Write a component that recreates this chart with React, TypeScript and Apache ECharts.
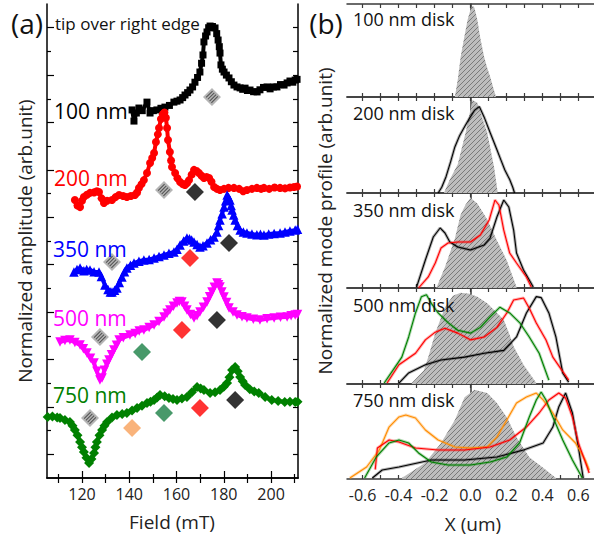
import React, { useEffect, useRef } from 'react';
import * as echarts from 'echarts';

const FONT = '"Open Sans", "DejaVu Sans", sans-serif';

// ---------- Panel (a): FMR spectra (Field mT, normalized amplitude with offsets) ----------
const fieldTicksMajor = [120, 140, 160, 180, 200];
const fieldTicksMinor = [110, 130, 150, 170, 190, 210];
const fieldTicksTop = [110, 120, 130, 140, 150, 160, 170, 180, 190, 200, 210];
const ampTicksMajor = [1, 3, 5, 7, 9, 11, 13, 15, 17, 19];
const ampTicksMinor = [2, 4, 6, 8, 10, 12, 14, 16, 18];
const ampTicksRight = [1, 2, 3, 4, 5, 6, 7, 8, 9, 10, 11, 12, 13, 14, 15, 16, 17, 18, 19];

const curve100 = [[141.2,15.53],[142.0,15.06],[143.0,15.4],[144.1,15.61],[145.5,15.5],[147.5,15.86],[148.8,15.4],[150.2,15.5],[151.7,15.53],[153.4,15.6],[155.1,15.65],[157.0,15.72],[158.9,15.86],[160.2,15.9],[161.5,15.95],[162.6,16.05],[163.6,16.16],[164.7,16.26],[165.7,16.37],[166.8,16.5],[167.8,16.7],[168.9,16.9],[169.9,17.13],[170.6,17.5],[171.2,17.85],[171.6,18.4],[172.3,18.65],[172.9,18.82],[173.6,19.0],[174.2,19.07],[175.2,19.05],[176.3,18.99],[177.0,18.75],[177.6,18.48],[178.1,18.2],[178.4,17.93],[178.8,17.43],[179.4,17.25],[180.1,17.13],[181.1,17.0],[182.2,16.88],[183.2,16.72],[184.3,16.58],[185.6,16.5],[186.9,16.46],[188.0,16.4],[189.0,16.45],[190.0,16.35],[191.1,16.37],[192.6,16.3],[194.1,16.29],[195.3,16.38],[196.8,16.48],[198.3,16.5],[199.6,16.42],[201.0,16.5],[202.5,16.5],[204.0,16.6],[205.5,16.58],[206.8,16.67],[208.0,16.75],[209.2,16.7],[210.2,16.79],[211.0,16.82]];
const curve200 = [[117.0,11.73],[118.1,11.5],[119.2,11.43],[120.0,11.7],[120.8,11.86],[122.1,11.95],[123.4,12.03],[125.1,12.05],[126.3,12.1],[127.2,12.07],[128.3,11.8],[129.3,11.6],[130.6,11.7],[132.7,11.73],[134.2,11.85],[135.7,11.94],[137.4,11.9],[139.0,11.86],[140.7,11.9],[142.4,11.94],[143.3,12.05],[144.1,12.24],[145.2,12.4],[146.2,12.57],[147.5,12.87],[148.8,13.29],[149.7,13.5],[150.5,13.71],[151.3,14.18],[152.1,14.5],[152.6,14.77],[153.4,15.15],[154.2,15.35],[154.9,15.42],[155.5,15.2],[156.0,14.77],[156.4,14.26],[157.2,13.76],[157.7,13.4],[158.1,13.12],[159.4,12.87],[160.4,12.65],[161.5,12.49],[162.6,12.4],[163.6,12.36],[164.5,12.45],[165.3,12.57],[166.4,12.8],[167.4,13.0],[168.5,12.95],[169.5,12.87],[170.6,12.75],[171.6,12.66],[172.7,12.7],[173.8,12.66],[174.8,12.5],[175.9,12.28],[177.1,12.2],[178.4,12.15],[180.1,12.2],[182.0,12.24],[184.3,12.24],[186.5,12.2],[188.2,12.1],[189.8,12.15],[191.9,12.2],[194.0,12.24],[195.8,12.2],[197.0,12.24],[199.2,12.2],[201.5,12.26],[203.8,12.24],[205.9,12.22],[208.0,12.26],[209.7,12.28],[211.0,12.3]];
const curve350 = [[116.6,8.69],[117.9,8.8],[119.2,8.86],[120.8,8.75],[122.0,8.8],[123.4,8.78],[125.1,8.7],[127.2,8.69],[128.2,8.5],[129.7,8.14],[131.0,7.95],[132.0,7.85],[132.7,7.85],[133.8,7.92],[134.8,8.02],[135.8,8.25],[136.9,8.48],[138.0,8.7],[139.0,8.86],[140.5,8.98],[142.0,9.07],[144.1,9.15],[146.2,9.2],[148.4,9.22],[150.5,9.28],[152.6,9.35],[154.7,9.41],[156.8,9.48],[158.9,9.54],[160.2,9.65],[161.5,9.83],[163.0,10.0],[164.4,10.13],[165.5,10.1],[166.4,10.04],[167.4,9.96],[168.7,9.85],[169.9,9.75],[171.2,9.8],[172.9,9.92],[174.4,10.05],[175.9,10.17],[177.1,10.38],[177.8,10.65],[178.4,10.89],[179.3,11.15],[180.1,11.43],[180.8,11.7],[181.4,11.94],[182.0,11.85],[182.6,11.73],[183.1,11.5],[183.5,11.31],[184.2,11.1],[184.8,10.89],[185.8,10.65],[186.9,10.46],[188.3,10.38],[189.8,10.34],[191.9,10.3],[194.0,10.26],[195.5,10.28],[197.0,10.25],[199.0,10.3],[201.3,10.32],[203.8,10.34],[205.9,10.38],[208.0,10.42],[210.2,10.46],[211.2,10.5]];
const curve500 = [[110.7,5.74],[112.8,5.8],[114.9,5.82],[117.0,5.72],[119.2,5.61],[120.6,5.45],[122.1,5.27],[123.6,5.05],[125.1,4.85],[126.3,4.5],[127.6,4.14],[128.5,4.22],[129.5,4.55],[130.5,4.8],[131.4,4.98],[132.5,5.2],[133.5,5.4],[134.6,5.6],[135.7,5.82],[137.5,5.92],[140.3,6.03],[142.5,6.1],[144.2,6.2],[146.2,6.24],[148.4,6.35],[150.5,6.46],[152.6,6.6],[154.7,6.79],[156.0,6.95],[157.2,7.09],[158.7,7.25],[160.2,7.38],[161.2,7.45],[162.3,7.43],[163.4,7.25],[164.4,7.09],[165.9,6.9],[167.4,6.75],[168.7,6.85],[169.9,7.0],[171.4,7.2],[172.9,7.43],[174.0,7.65],[175.0,7.85],[176.0,8.05],[177.1,8.23],[177.8,8.15],[178.4,8.06],[179.2,7.85],[180.1,7.64],[181.2,7.4],[182.2,7.17],[183.9,7.0],[185.6,6.88],[187.7,6.8],[189.8,6.75],[192.5,6.7],[195.3,6.67],[198.3,6.72],[201.3,6.75],[204.0,6.78],[206.8,6.79],[208.5,6.85],[210.2,6.88],[211.2,6.9]];
const curve750 = [[105.5,2.57],[107.5,2.6],[109.5,2.55],[110.7,2.53],[112.8,2.45],[114.9,2.36],[116.0,2.2],[117.0,2.03],[118.1,1.8],[119.2,1.52],[120.0,1.3],[120.8,1.1],[121.9,0.85],[123.0,0.63],[124.0,0.8],[125.1,1.05],[125.7,1.3],[126.3,1.52],[127.4,1.8],[128.5,2.03],[129.5,2.2],[130.6,2.36],[132.7,2.55],[134.8,2.66],[137.0,2.7],[139.0,2.74],[141.2,2.85],[143.3,2.95],[145.4,3.05],[147.5,3.16],[149.0,3.22],[150.5,3.29],[151.8,3.4],[153.0,3.5],[155.0,3.45],[156.8,3.38],[158.5,3.33],[160.2,3.29],[162.3,3.35],[164.4,3.42],[166.5,3.62],[168.7,3.84],[170.2,3.78],[171.6,3.71],[174.2,3.59],[176.3,3.62],[178.4,3.71],[180.0,3.85],[181.4,4.01],[182.4,4.25],[183.5,4.56],[184.8,4.68],[185.9,4.5],[186.9,4.26],[188.0,4.08],[189.0,3.92],[191.0,3.75],[192.9,3.65],[194.8,3.59],[197.5,3.42],[200.3,3.29],[203.0,3.25],[205.8,3.21],[208.0,3.22],[210.2,3.21],[211.2,3.22]];

// annotation diamonds
const hatchMarks = [[175.0,16.08],[154.7,12.15],[132.7,9.11],[127.6,5.95],[123.4,2.53]];
const blackMarks = [[167.8,12.07],[182.2,9.92],[177.1,6.67],[184.8,3.29]];
const redMarks = [[165.7,9.28],[162.3,6.24],[169.9,2.95]];
const greenMarks = [[145.4,5.32],[154.7,2.74]];
const orangeMarks = [[141.2,2.11]];

// ---------- Panel (b): mode profiles ----------
const xTicks = [-0.6,-0.5,-0.4,-0.3,-0.2,-0.1,0,0.1,0.2,0.3,0.4,0.5,0.6];
const xLabels = [-0.6,-0.4,-0.2,0,0.2,0.4,0.6];
const diskNames = ['100 nm disk','200 nm disk','350 nm disk','500 nm disk','750 nm disk'];

const gray100 = [[-0.087,0],[-0.07,0.2],[-0.055,0.43],[-0.035,0.64],[-0.016,0.83],[0,0.94],[0.012,0.98],[0.022,0.96],[0.038,0.83],[0.055,0.63],[0.076,0.43],[0.092,0.32],[0.109,0.22],[0.125,0.11],[0.142,0]];
const gray200 = [[-0.148,0],[-0.115,0.14],[-0.071,0.3],[-0.027,0.63],[0.011,0.97],[0.038,0.94],[0.065,0.78],[0.093,0.63],[0.131,0.27],[0.152,0]];
const black200 = [[-0.18,0.0],[-0.16,0.06],[-0.136,0.17],[-0.11,0.33],[-0.087,0.48],[-0.06,0.6],[-0.033,0.69],[-0.005,0.78],[0.022,0.86],[0.049,0.9],[0.076,0.79],[0.109,0.63],[0.147,0.45],[0.17,0.34],[0.191,0.24],[0.218,0.14],[0.235,0.06],[0.245,0]];
const gray350 = [[-0.19,0],[-0.142,0.22],[-0.087,0.52],[-0.055,0.77],[-0.027,0.88],[0,0.95],[0.038,0.89],[0.093,0.72],[0.147,0.5],[0.202,0.29],[0.256,0.01]];
const black350 = [[-0.30,0.01],[-0.251,0.295],[-0.207,0.537],[-0.169,0.632],[-0.142,0.579],[-0.115,0.484],[-0.071,0.432],[0,0.4],[0.076,0.453],[0.109,0.526],[0.147,0.747],[0.185,0.926],[0.213,0.853],[0.24,0.61],[0.256,0.368],[0.295,0.189],[0.327,0.084],[0.349,0.01]];
const red350 = [[-0.289,0],[-0.235,0.116],[-0.196,0.263],[-0.164,0.421],[-0.125,0.474],[-0.071,0.484],[0,0.484],[0.055,0.558],[0.104,0.716],[0.136,0.926],[0.158,0.874],[0.185,0.61],[0.218,0.368],[0.256,0.263],[0.311,0.116],[0.338,0.01]];
const gray500 = [[-0.327,0.01],[-0.26,0.14],[-0.235,0.28],[-0.196,0.53],[-0.142,0.8],[-0.098,0.92],[-0.055,0.95],[-0.005,0.94],[0.038,0.91],[0.093,0.84],[0.131,0.77],[0.185,0.67],[0.218,0.51],[0.24,0.39],[0.295,0.2],[0.366,0.01]];
const green500 = [[-0.48,0.01],[-0.382,0.28],[-0.344,0.49],[-0.306,0.74],[-0.273,0.91],[-0.245,0.93],[-0.218,0.84],[-0.18,0.74],[-0.125,0.64],[-0.071,0.56],[0,0.53],[0.055,0.59],[0.109,0.7],[0.164,0.8],[0.218,0.74],[0.273,0.64],[0.327,0.49],[0.382,0.32],[0.409,0.18],[0.436,0.04]];
const red500 = [[-0.464,0.01],[-0.398,0.2],[-0.306,0.32],[-0.251,0.46],[-0.196,0.54],[-0.142,0.58],[-0.071,0.53],[0,0.46],[0.076,0.49],[0.147,0.59],[0.202,0.74],[0.24,0.875],[0.295,0.896],[0.327,0.79],[0.366,0.635],[0.42,0.458],[0.458,0.28],[0.546,0.04]];
const black500 = [[-0.398,0.01],[-0.344,0.115],[-0.251,0.2],[-0.164,0.25],[-0.033,0.28],[0.076,0.32],[0.185,0.35],[0.256,0.49],[0.311,0.74],[0.366,0.91],[0.393,0.9],[0.436,0.74],[0.475,0.49],[0.513,0.115],[0.546,0.02]];
const gray750 = [[-0.382,0.01],[-0.251,0.17],[-0.164,0.38],[-0.087,0.62],[-0.033,0.86],[0.022,0.94],[0.093,0.905],[0.147,0.8],[0.202,0.65],[0.256,0.44],[0.327,0.23],[0.42,0.095],[0.475,0.01]];
const orange750 = [[-0.671,0.01],[-0.578,0.126],[-0.507,0.305],[-0.453,0.547],[-0.398,0.653],[-0.36,0.674],[-0.306,0.642],[-0.251,0.516],[-0.18,0.411],[-0.087,0.337],[0,0.326],[0.093,0.337],[0.147,0.442],[0.202,0.621],[0.256,0.8],[0.311,0.863],[0.366,0.905],[0.404,0.832],[0.458,0.695],[0.513,0.516],[0.584,0.379],[0.638,0.2],[0.66,0.095]];
const green750 = [[-0.589,0.01],[-0.524,0.232],[-0.453,0.379],[-0.398,0.411],[-0.344,0.379],[-0.289,0.274],[-0.218,0.179],[-0.125,0.147],[0,0.147],[0.109,0.179],[0.202,0.232],[0.273,0.379],[0.327,0.653],[0.366,0.832],[0.393,0.916],[0.42,0.832],[0.458,0.653],[0.513,0.411],[0.567,0.2],[0.622,0.01]];
const red750 = [[-0.53,0.1],[-0.518,0.326],[-0.453,0.411],[-0.398,0.389],[-0.306,0.326],[-0.18,0.305],[-0.033,0.305],[0.109,0.337],[0.218,0.411],[0.311,0.547],[0.382,0.695],[0.436,0.832],[0.491,0.905],[0.529,0.853],[0.567,0.653],[0.6,0.379],[0.649,0.126],[0.66,0.063]];
const black750 = [[-0.546,0.01],[-0.491,0.095],[-0.398,0.126],[-0.218,0.2],[-0.033,0.2],[0.147,0.232],[0.295,0.305],[0.404,0.379],[0.458,0.547],[0.491,0.758],[0.529,0.905],[0.567,0.695],[0.6,0.337],[0.627,0.01]];

const grayProfiles = [gray100, gray200, gray350, gray500, gray750];
const lineProfiles: { data: number[][]; color: string }[][] = [
  [],
  [{ data: black200, color: '#000000' }],
  [{ data: black350, color: '#000000' }, { data: red350, color: '#ff0000' }],
  [{ data: black500, color: '#000000' }, { data: red500, color: '#ff0000' }, { data: green500, color: '#008000' }],
  [{ data: black750, color: '#000000' }, { data: orange750, color: '#ff8c00' }, { data: red750, color: '#ff0000' }, { data: green750, color: '#008000' }],
];

const STRIPES = 'path://M30 52 L52 30 L54.5 32.5 L32.5 54.5 Z M36 58 L58 36 L60.5 38.5 L38.5 60.5 Z M42 64 L64 42 L66.5 44.5 L44.5 66.5 Z M48 70 L70 48 L72.5 50.5 L50.5 72.5 Z';

const App = () => {
  const ref = useRef<HTMLDivElement>(null);
  useEffect(() => {
    if (!ref.current) return;
    const chart = echarts.init(ref.current, null, { renderer: 'svg' });

    const cv = document.createElement('canvas');
    cv.width = 5; cv.height = 5;
    const g = cv.getContext('2d')!;
    g.fillStyle = '#bdbdbd'; g.fillRect(0, 0, 5, 5);
    g.strokeStyle = '#7a7a7a'; g.lineWidth = 1;
    g.beginPath();
    g.moveTo(0, 5); g.lineTo(5, 0);
    g.moveTo(-1, 1); g.lineTo(1, -1);
    g.moveTo(4, 6); g.lineTo(6, 4);
    g.stroke();
    const hatch: any = { image: cv, repeat: 'repeat', imageWidth: 5, imageHeight: 5 };

    const grids: any[] = [{ left: 47, top: 4, width: 251, height: 474 }];
    const rTops = [4, 97, 193, 288, 384];
    const rHeights = [93, 96, 95, 96, 95];
    rTops.forEach((t, i) => grids.push({ left: 347, top: t, width: 252, height: rHeights[i] }));

    const blackLine = { show: true, lineStyle: { color: '#000', width: 1.5 } };
    const tickStyle = { color: '#000', width: 1.2 };
    const xAxes: any[] = [
      { type: 'value', gridIndex: 0, min: 105.2, max: 211.4, position: 'bottom', axisLine: blackLine,
        axisTick: { show: true, inside: true, length: 7, customValues: fieldTicksMajor, lineStyle: tickStyle },
        axisLabel: { show: true, customValues: fieldTicksMajor, fontSize: 16, color: '#222', fontFamily: FONT, margin: 8 },
        splitLine: { show: false } },
      { type: 'value', gridIndex: 0, min: 105.2, max: 211.4, position: 'bottom', axisLine: { show: false },
        axisTick: { show: true, inside: true, length: 4, customValues: fieldTicksMinor, lineStyle: tickStyle },
        axisLabel: { show: false }, splitLine: { show: false } },
      { type: 'value', gridIndex: 0, min: 105.2, max: 211.4, position: 'top', axisLine: blackLine,
        axisTick: { show: true, inside: true, length: 5, customValues: fieldTicksTop, lineStyle: tickStyle },
        axisLabel: { show: false }, splitLine: { show: false } },
    ];
    const yAxes: any[] = [
      { type: 'value', gridIndex: 0, min: 0, max: 20, position: 'left', axisLine: blackLine,
        axisTick: { show: true, inside: true, length: 7, customValues: ampTicksMajor, lineStyle: tickStyle },
        axisLabel: { show: false }, splitLine: { show: false } },
      { type: 'value', gridIndex: 0, min: 0, max: 20, position: 'left', axisLine: { show: false },
        axisTick: { show: true, inside: true, length: 4, customValues: ampTicksMinor, lineStyle: tickStyle },
        axisLabel: { show: false }, splitLine: { show: false } },
      { type: 'value', gridIndex: 0, min: 0, max: 20, position: 'right', axisLine: blackLine,
        axisTick: { show: true, inside: true, length: 5, customValues: ampTicksRight, lineStyle: tickStyle },
        axisLabel: { show: false }, splitLine: { show: false } },
    ];
    const rLine = { show: true, lineStyle: { color: '#3a3a3a', width: 1.5 } };
    const rTick = { color: '#3a3a3a', width: 1.2 };
    const series: any[] = [];
    const rx: number[] = [];
    const ry: number[] = [];
    for (let i = 0; i < 5; i++) {
      const gi = i + 1;
      rx.push(xAxes.length);
      xAxes.push({ type: 'value', gridIndex: gi, min: -0.687, max: 0.687, position: 'bottom', axisLine: rLine,
        axisTick: { show: true, inside: true, length: 4, customValues: xTicks, lineStyle: rTick },
        axisLabel: i === 4 ? { show: true, customValues: xLabels, fontSize: 16, color: '#222', fontFamily: FONT, margin: 8,
          formatter: (v: number) => v.toFixed(1) } : { show: false },
        splitLine: { show: false } });
      xAxes.push({ type: 'value', gridIndex: gi, min: -0.687, max: 0.687, position: 'top', axisLine: rLine,
        axisTick: { show: true, inside: true, length: 4, customValues: xTicks, lineStyle: rTick },
        axisLabel: { show: false }, splitLine: { show: false } });
      ry.push(yAxes.length);
      yAxes.push({ type: 'value', gridIndex: gi, min: 0, max: 1, position: 'left', axisLine: rLine,
        axisTick: { show: false }, axisLabel: { show: false }, splitLine: { show: false } });

      series.push({ type: 'line', xAxisIndex: rx[i], yAxisIndex: ry[i], data: grayProfiles[i], symbol: 'none',
        lineStyle: { width: 0, opacity: 0 }, areaStyle: { color: hatch, opacity: 1 }, z: 1, silent: true });
      lineProfiles[i].forEach((p) => {
        series.push({ type: 'line', xAxisIndex: rx[i], yAxisIndex: ry[i], data: p.data, symbol: 'none',
          lineStyle: { width: 3, color: p.color, opacity: 0.3 }, z: 2, silent: true });
        series.push({ type: 'line', xAxisIndex: rx[i], yAxisIndex: ry[i], data: p.data, symbol: 'none',
          lineStyle: { width: 1.1, color: p.color }, z: 3, silent: true });
      });
    }

    const curves = [
      { data: curve100, color: '#000000', symbol: 'rect', size: 7, rot: 0 },
      { data: curve200, color: '#ff0000', symbol: 'circle', size: 8, rot: 0 },
      { data: curve350, color: '#0000ff', symbol: 'triangle', size: 9.5, rot: 0 },
      { data: curve500, color: '#ff00ff', symbol: 'triangle', size: 9.5, rot: 180 },
      { data: curve750, color: '#008000', symbol: 'diamond', size: 10, rot: 0 },
    ];
    curves.forEach((c) => {
      series.push({ type: 'line', xAxisIndex: 0, yAxisIndex: 0, data: c.data, symbol: c.symbol, symbolSize: c.size,
        symbolRotate: c.rot, showAllSymbol: true, itemStyle: { color: c.color }, lineStyle: { color: c.color, width: 4 },
        z: 3, silent: true });
    });
    const marks = [
      { data: blackMarks, color: '#000000' },
      { data: redMarks, color: '#ff0000' },
      { data: greenMarks, color: '#1a8045' },
      { data: orangeMarks, color: '#f7a05a' },
      { data: hatchMarks, color: '#a3a3a3' },
    ];
    marks.forEach((m) => {
      series.push({ type: 'scatter', xAxisIndex: 0, yAxisIndex: 0, data: m.data, symbol: 'diamond', symbolSize: 18,
        itemStyle: { color: m.color }, z: 5, silent: true });
    });
    series.push({ type: 'scatter', xAxisIndex: 0, yAxisIndex: 0, data: hatchMarks, symbol: STRIPES, symbolSize: 12.5,
      itemStyle: { color: '#3a3a3a' }, z: 6, silent: true });

    const txt = (text: string, x: number, y: number, size: number, fill: string, align = 'left', rotation = 0) => ({
      type: 'text', x, y, rotation, z: 20,
      style: { text, fontSize: size, fontFamily: FONT, fill, align, verticalAlign: 'middle' },
    });
    const graphics: any[] = [
      txt('(a)', 27, 23, 28, '#111', 'center'),
      txt('(b)', 326, 23, 28, '#111', 'center'),
      txt('tip over right edge', 55, 23, 17, '#111'),
      txt('100 nm', 54, 111, 21, '#000'),
      txt('200 nm', 54, 178, 21, '#ff0000'),
      txt('350 nm', 53, 249, 21, '#0000ff'),
      txt('500 nm', 53, 318, 21, '#ff00ff'),
      txt('750 nm', 53, 395, 21, '#008000'),
      txt('Normalized amplitude (arb.unit)', 25, 241, 19, '#222', 'center', Math.PI / 2),
      txt('Normalized mode profile (arb.unit)', 325, 221, 19, '#222', 'center', Math.PI / 2),
      txt('Field (mT)', 172, 522, 19, '#222', 'center'),
      txt('X (um)', 473, 524, 19, '#222', 'center'),
    ];
    const diskY = [19, 113, 210, 305, 400];
    diskNames.forEach((n, i) => graphics.push(txt(n, 353, diskY[i], 18, '#111')));

    chart.setOption({
      animation: false,
      backgroundColor: '#ffffff',
      grid: grids,
      xAxis: xAxes,
      yAxis: yAxes,
      series,
      graphic: graphics,
    });
    return () => chart.dispose();
  }, []);
  return <div ref={ref} style={{ position: 'absolute', left: 0, top: 0, width: 594, height: 540, background: '#fff' }} />;
};

export default App;
